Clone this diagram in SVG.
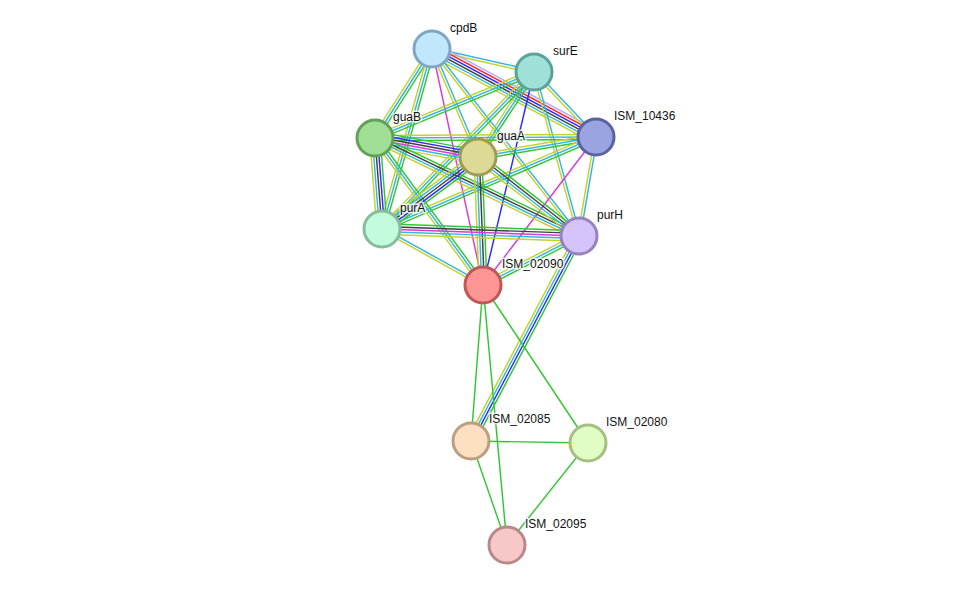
<svg xmlns="http://www.w3.org/2000/svg" width="975" height="591" viewBox="0 0 975 591">
<style>
line{stroke-width:1.45;fill:none}
.n{stroke:#33c633}.f{stroke:#ff2424}.o{stroke:#2b2bff}.h{stroke:#aea8ff}.c{stroke:#404040}.x{stroke:#d83cd8}.d{stroke:#34b6df}.t{stroke:#c3d22e}
.node circle{stroke-width:3}
text{font-family:"Liberation Sans",Arial,sans-serif;font-size:12px;fill:#111;stroke:#fff;stroke-width:3;stroke-opacity:0.8;paint-order:stroke;stroke-linejoin:round}
</style>
<rect width="975" height="591" fill="#fff"/>
<g id="edges">
<!-- cpdB-surE -->
<g transform="translate(432 49) rotate(12.71)"><line class="d" x2="104.6" y1="-1.3" y2="-1.3"/><line class="t" x2="104.6" y1="1.3" y2="1.3"/></g>
<!-- cpdB-ISM_10436 -->
<g transform="translate(432 49) rotate(28.22)"><line class="h" x2="186.1" y1="-6.5" y2="-6.5"/><line class="f" x2="186.1" y1="-3.9" y2="-3.9"/><line class="o" x2="186.1" y1="-1.3" y2="-1.3"/><line class="c" x2="186.1" y1="1.3" y2="1.3"/><line class="d" x2="186.1" y1="3.9" y2="3.9"/><line class="t" x2="186.1" y1="6.5" y2="6.5"/></g>
<!-- cpdB-guaB -->
<g transform="translate(432 49) rotate(122.64)"><line class="n" x2="105.7" y1="-2.6" y2="-2.6"/><line class="d" x2="105.7"/><line class="t" x2="105.7" y1="2.6" y2="2.6"/></g>
<!-- cpdB-guaA -->
<g transform="translate(432 49) rotate(66.92)"><line class="d" x2="117.4" y1="-1.3" y2="-1.3"/><line class="t" x2="117.4" y1="1.3" y2="1.3"/></g>
<!-- cpdB-purA -->
<g transform="translate(432 49) rotate(105.52)"><line class="n" x2="186.8" y1="-2.6" y2="-2.6"/><line class="d" x2="186.8"/><line class="t" x2="186.8" y1="2.6" y2="2.6"/></g>
<!-- cpdB-purH -->
<g transform="translate(432 49) rotate(51.83)"><line class="d" x2="237.9" y1="-1.3" y2="-1.3"/><line class="t" x2="237.9" y1="1.3" y2="1.3"/></g>
<!-- cpdB-ISM_02090 -->
<g transform="translate(432 49) rotate(77.81)"><line class="x" x2="241.4"/></g>
<!-- surE-ISM_10436 -->
<g transform="translate(534 72) rotate(46.36)"><line class="d" x2="89.8" y1="-1.3" y2="-1.3"/><line class="t" x2="89.8" y1="1.3" y2="1.3"/></g>
<!-- surE-guaB -->
<g transform="translate(534 72) rotate(157.46)"><line class="n" x2="172.2" y1="-2.6" y2="-2.6"/><line class="d" x2="172.2"/><line class="t" x2="172.2" y1="2.6" y2="2.6"/></g>
<!-- surE-guaA -->
<g transform="translate(534 72) rotate(123.38)"><line class="n" x2="101.8" y1="-2.6" y2="-2.6"/><line class="d" x2="101.8"/><line class="t" x2="101.8" y1="2.6" y2="2.6"/></g>
<!-- surE-purA -->
<g transform="translate(534 72) rotate(134.08)"><line class="n" x2="218.5" y1="-2.6" y2="-2.6"/><line class="d" x2="218.5"/><line class="t" x2="218.5" y1="2.6" y2="2.6"/></g>
<!-- surE-purH -->
<g transform="translate(534 72) rotate(74.66)"><line class="d" x2="170.1" y1="-1.3" y2="-1.3"/><line class="t" x2="170.1" y1="1.3" y2="1.3"/></g>
<!-- surE-ISM_02090 -->
<g transform="translate(534 72) rotate(103.47)"><line class="o" x2="219"/></g>
<!-- ISM_10436-guaB -->
<g transform="translate(596 137) rotate(179.74)"><line class="n" x2="221" y1="-2.6" y2="-2.6"/><line class="d" x2="221"/><line class="t" x2="221" y1="2.6" y2="2.6"/></g>
<!-- ISM_10436-guaA -->
<g transform="translate(596 137) rotate(170.38)"><line class="n" x2="119.7" y1="-2.6" y2="-2.6"/><line class="d" x2="119.7"/><line class="t" x2="119.7" y1="2.6" y2="2.6"/></g>
<!-- ISM_10436-purA -->
<g transform="translate(596 137) rotate(156.74)"><line class="n" x2="232.9" y1="-2.6" y2="-2.6"/><line class="d" x2="232.9"/><line class="t" x2="232.9" y1="2.6" y2="2.6"/></g>
<!-- ISM_10436-purH -->
<g transform="translate(596 137) rotate(99.74)"><line class="d" x2="100.4" y1="-1.3" y2="-1.3"/><line class="t" x2="100.4" y1="1.3" y2="1.3"/></g>
<!-- ISM_10436-ISM_02090 -->
<g transform="translate(596 137) rotate(127.36)"><line class="x" x2="186.2"/></g>
<!-- guaB-guaA -->
<g transform="translate(375 138) rotate(10.45)"><line class="n" x2="104.7" y1="-6.5" y2="-6.5"/><line class="o" x2="104.7" y1="-3.9" y2="-3.9"/><line class="c" x2="104.7" y1="-1.3" y2="-1.3"/><line class="x" x2="104.7" y1="1.3" y2="1.3"/><line class="d" x2="104.7" y1="3.9" y2="3.9"/><line class="t" x2="104.7" y1="6.5" y2="6.5"/></g>
<!-- guaB-purA -->
<g transform="translate(375 138) rotate(85.6)"><line class="n" x2="91.3" y1="-5.2" y2="-5.2"/><line class="o" x2="91.3" y1="-2.6" y2="-2.6"/><line class="c" x2="91.3"/><line class="d" x2="91.3" y1="2.6" y2="2.6"/><line class="t" x2="91.3" y1="5.2" y2="5.2"/></g>
<!-- guaB-purH -->
<g transform="translate(375 138) rotate(25.66)"><line class="n" x2="226.3" y1="-3.9" y2="-3.9"/><line class="c" x2="226.3" y1="-1.3" y2="-1.3"/><line class="d" x2="226.3" y1="1.3" y2="1.3"/><line class="t" x2="226.3" y1="3.9" y2="3.9"/></g>
<!-- guaB-ISM_02090 -->
<g transform="translate(375 138) rotate(53.7)"><line class="n" x2="182.4" y1="-2.6" y2="-2.6"/><line class="d" x2="182.4"/><line class="t" x2="182.4" y1="2.6" y2="2.6"/></g>
<!-- guaA-purA -->
<g transform="translate(478 157) rotate(143.13)"><line class="n" x2="120" y1="-5.2" y2="-5.2"/><line class="o" x2="120" y1="-2.6" y2="-2.6"/><line class="c" x2="120"/><line class="d" x2="120" y1="2.6" y2="2.6"/><line class="t" x2="120" y1="5.2" y2="5.2"/></g>
<!-- guaA-purH -->
<g transform="translate(478 157) rotate(38.03)"><line class="n" x2="128.2" y1="-3.9" y2="-3.9"/><line class="c" x2="128.2" y1="-1.3" y2="-1.3"/><line class="d" x2="128.2" y1="1.3" y2="1.3"/><line class="t" x2="128.2" y1="3.9" y2="3.9"/></g>
<!-- guaA-ISM_02090 -->
<g transform="translate(478 157) rotate(87.76)"><line class="n" x2="128.1" y1="-3.9" y2="-3.9"/><line class="c" x2="128.1" y1="-1.3" y2="-1.3"/><line class="d" x2="128.1" y1="1.3" y2="1.3"/><line class="t" x2="128.1" y1="3.9" y2="3.9"/></g>
<!-- purA-purH -->
<g transform="translate(382 229) rotate(2.03)"><line class="n" x2="197.1" y1="-5.2" y2="-5.2"/><line class="c" x2="197.1" y1="-2.6" y2="-2.6"/><line class="x" x2="197.1"/><line class="d" x2="197.1" y1="2.6" y2="2.6"/><line class="t" x2="197.1" y1="5.2" y2="5.2"/></g>
<!-- purA-ISM_02090 -->
<g transform="translate(382 229) rotate(29)"><line class="d" x2="115.5" y1="-1.3" y2="-1.3"/><line class="t" x2="115.5" y1="1.3" y2="1.3"/></g>
<!-- purH-ISM_02090 -->
<g transform="translate(579 236) rotate(152.96)"><line class="n" x2="107.8" y1="-2.6" y2="-2.6"/><line class="d" x2="107.8"/><line class="t" x2="107.8" y1="2.6" y2="2.6"/></g>
<!-- purH-ISM_02085 -->
<g transform="translate(579 236) rotate(117.78)"><line class="n" x2="231.7" y1="-3.9" y2="-3.9"/><line class="o" x2="231.7" y1="-1.3" y2="-1.3"/><line class="d" x2="231.7" y1="1.3" y2="1.3"/><line class="t" x2="231.7" y1="3.9" y2="3.9"/></g>
<line class="n" x1="483" y1="285" x2="471" y2="441"/>
<line class="n" x1="483" y1="285" x2="588" y2="443"/>
<line class="n" x1="483" y1="285" x2="507" y2="545"/>
<line class="n" x1="471" y1="441" x2="588" y2="443"/>
<line class="n" x1="471" y1="441" x2="507" y2="545"/>
<line class="n" x1="588" y1="443" x2="507" y2="545"/>
</g>
<g id="cpdB" class="node"><circle cx="432" cy="49" r="18" fill="#c2e7fb" stroke="#7fa6c4"/><text x="450" y="32">cpdB</text></g>
<g id="surE" class="node"><circle cx="534" cy="72" r="18" fill="#9fe1d8" stroke="#5aa29a"/><text x="553" y="55">surE</text></g>
<g id="ISM_10436" class="node"><circle cx="596" cy="137" r="18" fill="#9aa4e0" stroke="#5a62a0"/><text x="614" y="120">ISM_10436</text></g>
<g id="guaB" class="node"><circle cx="375" cy="138" r="18" fill="#9fde94" stroke="#61a056"/><text x="393" y="121">guaB</text></g>
<g id="guaA" class="node"><circle cx="478" cy="157" r="18" fill="#ddda95" stroke="#9e9b56"/><text x="497" y="140">guaA</text></g>
<g id="purA" class="node"><circle cx="382" cy="229" r="18" fill="#c3fcdc" stroke="#85bc9c"/><text x="400" y="212">purA</text></g>
<g id="purH" class="node"><circle cx="579" cy="236" r="18" fill="#d5c3fc" stroke="#9783bc"/><text x="597" y="219">purH</text></g>
<g id="ISM_02090" class="node"><circle cx="483" cy="285" r="18" fill="#fe9595" stroke="#c05757"/><text x="502" y="268">ISM_02090</text></g>
<g id="ISM_02085" class="node"><circle cx="471" cy="441" r="18" fill="#fddfc2" stroke="#bd9d7f"/><text x="489" y="423">ISM_02085</text></g>
<g id="ISM_02080" class="node"><circle cx="588" cy="443" r="18" fill="#e1fdc3" stroke="#a3bf82"/><text x="606" y="426">ISM_02080</text></g>
<g id="ISM_02095" class="node"><circle cx="507" cy="545" r="18" fill="#f8c8c8" stroke="#b98989"/><text x="525" y="528">ISM_02095</text></g>
</svg>
